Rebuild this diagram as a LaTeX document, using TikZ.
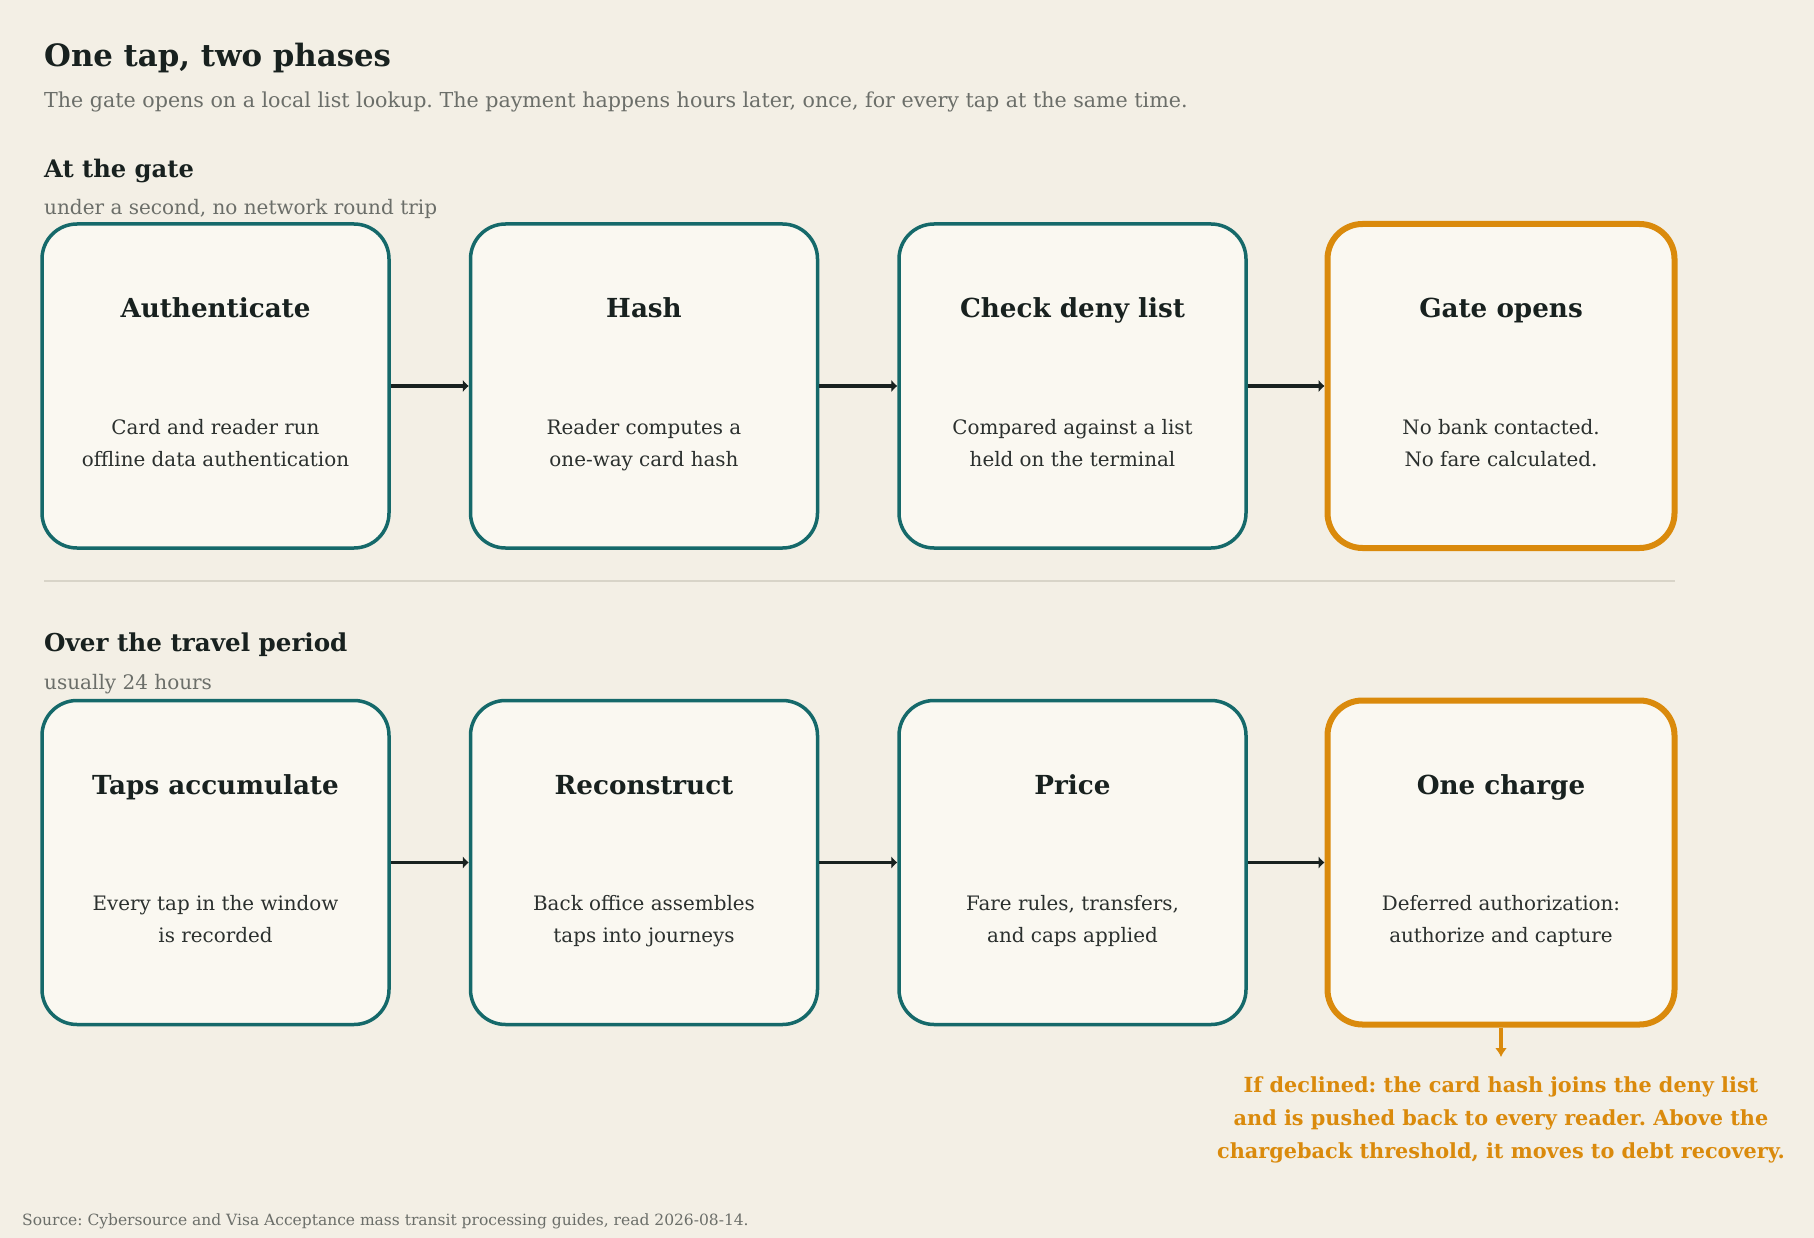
\documentclass[tikz,border=0pt]{standalone}
\usepackage{fontspec}
\setmainfont{DejaVu Serif}
\frenchspacing
\usetikzlibrary{arrows.meta,calc}
\definecolor{bgc}{HTML}{F3EFE5}
\definecolor{boxfill}{HTML}{FAF8F1}
\definecolor{teal}{HTML}{15696A}
\definecolor{amber}{HTML}{DA8A0C}
\definecolor{ink}{HTML}{18211F}
\definecolor{body}{HTML}{2B302E}
\definecolor{muted}{HTML}{6B6E69}
\definecolor{rule}{HTML}{D8D4C8}
\tikzset{
  stepbox/.style={draw=teal, line width=3.5pt, fill=boxfill, rounded corners=35pt,
    minimum width=347pt, minimum height=324pt, inner sep=0pt},
  endbox/.style={stepbox, draw=amber, line width=6pt},
  boxtitle/.style={anchor=base, inner sep=0pt, text=ink, font=\fontsize{26.2}{30}\selectfont\bfseries},
  boxdesc/.style={anchor=base, inner sep=0pt, text=body, font=\fontsize{19.9}{24}\selectfont},
  flow/.style={draw=ink, line width=3.5pt, -{Latex[length=6pt,width=13pt]}},
  note/.style={anchor=base, inner sep=0pt, text=amber, font=\fontsize{20.8}{24}\selectfont\bfseries},
  head/.style={anchor=base west, inner sep=0pt, text=ink, font=\fontsize{24.2}{28}\selectfont\bfseries},
  sub/.style={anchor=base west, inner sep=0pt, text=muted, font=\fontsize{20}{24}\selectfont},
}
\begin{document}
\begin{tikzpicture}[x=1pt,y=-1pt]
\fill[bgc] (0,0) rectangle (1814,1238);
\useasboundingbox (0,0) rectangle (1814,1238);

\node[anchor=base west, inner sep=0pt, text=ink, font=\fontsize{30.8}{34}\selectfont\bfseries] (title) at (44,67) {One tap, two phases};
\node[sub, font=\fontsize{20.6}{24}\selectfont] (subtitle) at (44,108) {The gate opens on a local list lookup. The payment happens hours later, once, for every tap at the same time.};

% Row 1
\node[head] (h1) at (44,178) {At the gate};
\node[sub] (s1) at (44,215) {under a second, no network round trip};

\node[stepbox] (a) at (215.5,386) {};
\node[stepbox] (b) at (644,386) {};
\node[stepbox] (c) at (1072.5,386) {};
\node[endbox] (d) at (1501,386) {};

\foreach \n/\t/\la/\lb in {a/{Authenticate}/{Card and reader run}/{offline data authentication},
  b/{Hash}/{Reader computes a}/{one-way card hash},
  c/{Check deny list}/{Compared against a list}/{held on the terminal},
  d/{Gate opens}/{No bank contacted.}/{No fare calculated.}}{
  \node[boxtitle] (\n-t) at ($(\n.center)+(0,-68)$) {\t};
  \node[boxdesc] (\n-d1) at ($(\n.center)+(0,48)$) {\la};
  \node[boxdesc] (\n-d2) at ($(\n.center)+(0,80)$) {\lb};
}
\draw[flow] (a.east) -- (b.west);
\draw[flow] (b.east) -- (c.west);
\draw[flow] (c.east) -- (d.west);

\draw[rule, line width=2pt] (44,581) coordinate (r1) -- (1675,581) coordinate (r2);

% Row 2
\node[head, font=\fontsize{24.6}{28}\selectfont\bfseries] (h2) at (44,651.5) {Over the travel period};
\node[sub] (s2) at (44,689) {usually 24 hours};

\node[stepbox] (e) at (215.5,862.5) {};
\node[stepbox] (f) at (644,862.5) {};
\node[stepbox] (g) at (1072.5,862.5) {};
\node[endbox] (h) at (1501,862.5) {};

\foreach \n/\t/\la/\lb in {e/{Taps accumulate}/{Every tap in the window}/{is recorded},
  f/{Reconstruct}/{Back office assembles}/{taps into journeys},
  g/{Price}/{Fare rules, transfers,}/{and caps applied},
  h/{One charge}/{Deferred authorization:}/{authorize and capture}}{
  \node[boxtitle] (\n-t) at ($(\n.center)+(0,-68)$) {\t};
  \node[boxdesc] (\n-d1) at ($(\n.center)+(0,48)$) {\la};
  \node[boxdesc] (\n-d2) at ($(\n.center)+(0,80)$) {\lb};
}
\draw[flow] (e.east) -- (f.west);
\draw[flow] (f.east) -- (g.west);
\draw[flow] (g.east) -- (h.west);

\coordinate (tip) at (1501,1057);
\draw[draw=amber, line width=3.5pt, -{Latex[length=9pt,width=12pt]}] (h.south) -- (tip);
\node[note] (n1) at (1501,1092) {If declined: the card hash joins the deny list};
\node[note] (n2) at (1501,1125) {and is pushed back to every reader. Above the};
\node[note] (n3) at (1501,1158) {chargeback threshold, it moves to debt recovery.};

\node[anchor=base west, inner sep=0pt, text=muted, font=\fontsize{15.5}{19}\selectfont] (src) at (22,1225) {Source: Cybersource and Visa Acceptance mass transit processing guides, read 2026-08-14.};
\end{tikzpicture}
\end{document}
